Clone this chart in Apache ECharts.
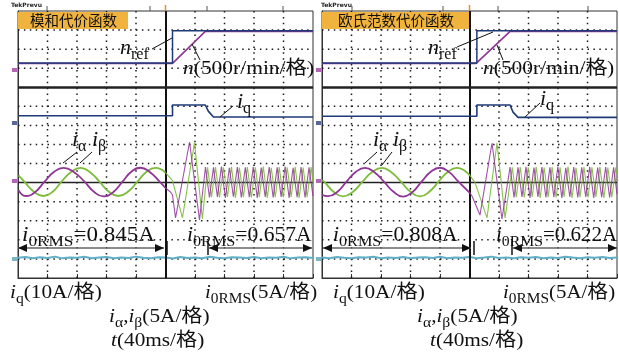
<!DOCTYPE html>
<html><head><meta charset="utf-8">
<script src="https://cdn.jsdelivr.net/npm/echarts@6/dist/echarts.min.js"></script>
<style>html,body{margin:0;padding:0;background:#fff}#c{width:619px;height:358px}</style>
</head><body><div id="c"></div>
<script>
// ---- data (x: time in ms, 40 ms / division; y: screen divisions from bottom) ----
const titles = ['模和代价函数', '欧氏范数代价函数'];
const rmsLabels = [['0.845A', '0.657A'], ['0.808A', '0.622A']];

const L_nref = [[0,11.27],[209.5,11.27],[209.5,12.97],[400,12.97]];
const L_n    = [[0,11.25],[209.5,11.25],[254,12.93],[400,12.93]];
const L_iq   = [[0,8.51],[209.5,8.51],[209.5,9.07],[254,9.07],[258,8.75],[265,8.44],[400,8.44]];
const L_ia_pre = [[0.7,4.61],[10.2,4.30],[23,4.5],[36,5.05],[49,5.57],[61.7,5.77],[76,5.55],[90.2,5.05],[103,4.52],[116,4.28],[129,4.5],[141.7,5.05],[154,5.58],[166,5.78],[179,5.55],[192,5.05],[200,4.72]];
const L_ib_pre = [[0.7,5.38],[8.6,5.05],[21.6,4.52],[34.6,4.30],[47,4.52],[59,5.05],[72,5.56],[84.8,5.77],[97.6,5.55],[110.5,5.05],[123.4,4.52],[136.3,4.30],[149,4.52],[162,5.05],[174,5.56],[186.5,5.77],[200,5.52]];
const L_ia_post = [[200,4.72],[206.8,4.51],[209.5,4.35],[213.6,3.15],[232.6,7.13],[246.1,3.04],[254.2,5.82],[259.6,4.22],[265,5.8],[270.4,4.25],[275.8,5.84],[281.2,4.2],[286.6,5.78],[292,4.26],[297.4,5.82],[302.8,4.22],[308.2,5.8],[313.6,4.24],[319,5.83],[324.4,4.2],[329.8,5.79],[335.2,4.25],[340.6,5.82],[346,4.22],[351.4,5.8],[356.8,4.25],[362.2,5.84],[367.6,4.2],[373,5.78],[378.4,4.24],[383.8,5.82],[389.2,4.22],[394.6,5.8],[400,4.3]];
const L_ib_post = [[200,5.52],[209.5,5.1],[223,3.15],[239.3,7.1],[250,3.1],[257,5.8],[262.4,4.24],[267.8,5.82],[273.2,4.22],[278.6,5.8],[284,4.25],[289.4,5.83],[294.8,4.2],[300.2,5.79],[305.6,4.24],[311,5.82],[316.4,4.22],[321.8,5.8],[327.2,4.25],[332.6,5.84],[338,4.2],[343.4,5.78],[348.8,4.24],[354.2,5.82],[359.6,4.22],[365,5.8],[370.4,4.25],[375.8,5.83],[381.2,4.2],[386.6,5.79],[392,4.24],[397.4,5.82],[400,5.0]];

const R_nref = [[0,11.27],[210,11.27],[210,12.97],[400,12.97]];
const R_n    = [[0,11.25],[209,11.25],[255,12.93],[400,12.93]];
const R_iq   = [[0,8.48],[210,8.48],[210,9.07],[255,9.07],[259,8.7],[265.8,8.42],[400,8.42]];
const R_ia_pre = [[0,4.36],[8.1,4.29],[20.6,4.51],[33.2,5.05],[45.7,5.56],[58.3,5.77],[71,5.55],[84,5.05],[97,4.52],[109.8,4.27],[122.4,4.5],[135,5.05],[147.5,5.57],[160,5.78],[172.5,5.55],[185,5.05],[200.7,4.45]];
const R_ib_pre = [[0,5.12],[3,5.05],[15.7,4.52],[28.5,4.28],[42,4.52],[55,5.05],[68,5.56],[81.4,5.77],[94,5.55],[107,5.05],[120,4.52],[132.9,4.28],[145.5,4.52],[158,5.05],[170.5,5.56],[183,5.77],[200.7,5.37]];
const R_ia_post = [[200.7,4.45],[203.4,4.3],[214.2,3.3],[230.5,7.08],[244,3.1],[255,5.82],[260.4,4.22],[265.8,5.8],[271.2,4.25],[276.6,5.83],[282,4.2],[287.4,5.79],[292.8,4.25],[298.2,5.82],[303.6,4.22],[309,5.8],[314.4,4.24],[319.8,5.84],[325.2,4.2],[330.6,5.78],[336,4.25],[341.4,5.82],[346.8,4.22],[352.2,5.8],[357.6,4.25],[363,5.83],[368.4,4.2],[373.8,5.79],[379.2,4.24],[384.6,5.82],[390,4.22],[395.4,5.8],[400,4.4]];
const R_ib_post = [[200.7,5.37],[207.5,5.0],[223.7,3.15],[237.3,7.08],[248.2,3.15],[258,5.8],[263.4,4.24],[268.8,5.82],[274.2,4.22],[279.6,5.8],[285,4.25],[290.4,5.83],[295.8,4.2],[301.2,5.79],[306.6,4.24],[312,5.82],[317.4,4.22],[322.8,5.8],[328.2,4.25],[333.6,5.84],[339,4.2],[344.4,5.78],[349.8,4.24],[355.2,5.82],[360.6,4.22],[366,5.8],[371.4,4.25],[376.8,5.83],[382.2,4.2],[387.6,5.79],[393,4.24],[398.4,5.8],[400,5.4]];

const i0Time = [0,10,20,30,40,50,60,70,80,90,100,110,120,130,140,150,160,170,180,190,200,210,220,230,240,250,260,270,280,290,300,310,320,330,340,350,360,370,380,390,400];
const L_i0 = [1.06,1.1,1.04,1.09,1.05,1.12,1.03,1.08,1.06,1.11,1.04,1.07,1.1,1.03,1.08,1.05,1.12,1.06,1.04,1.09,1.07,1.02,1.1,1.05,1.08,1.04,1.11,1.06,1.03,1.09,1.07,1.05,1.1,1.04,1.08,1.06,1.11,1.03,1.07,1.09,1.05];
const R_i0 = [1.08,1.04,1.1,1.06,1.03,1.09,1.07,1.11,1.04,1.08,1.05,1.1,1.03,1.07,1.09,1.05,1.11,1.04,1.08,1.06,1.1,1.03,1.07,1.12,1.05,1.08,1.04,1.09,1.06,1.1,1.03,1.08,1.05,1.11,1.07,1.04,1.09,1.06,1.1,1.05,1.07];

// ---- styling ----
const C = {purple:'#8f3596', green:'#7cbc3a', navy:'#1f3a78', cyan:'#5fb0c6', grid:'#1a1a1a'};
const SERIF = "'Liberation Serif','Noto Sans CJK SC',serif";
const GRIDS = [{left:18, top:11, width:295, height:267}, {left:322, top:11, width:295, height:267}];
const XDIV = 10, YDIV = 14;

const chart = echarts.init(document.getElementById('c'), null, {renderer:'canvas'});

function xAx(i){return {gridIndex:i,type:'value',min:0,max:400,interval:40,
  axisLabel:{show:false},axisLine:{show:true,onZero:false,lineStyle:{color:'#333',width:1}},
  axisTick:{show:true,inside:true,length:4,lineStyle:{color:'#333'}},
  splitLine:{show:false}};}
function yAx(i){return {gridIndex:i,type:'value',min:0,max:14,interval:1,
  axisLabel:{show:false},axisLine:{show:true,onZero:false,lineStyle:{color:'#333',width:1}},
  axisTick:{show:false},splitLine:{show:false}};}
function ln(i,data,color,width,smooth,z,op){return {type:'line',xAxisIndex:i,yAxisIndex:i,data,symbol:'none',
  smooth:smooth,lineStyle:{color,width,opacity:op||1},z:z,silent:true,animation:false};}

const series=[];
[[L_nref,L_n,L_iq,L_ia_pre,L_ib_pre,L_ia_post,L_ib_post,L_i0],[R_nref,R_n,R_iq,R_ia_pre,R_ib_pre,R_ia_post,R_ib_post,R_i0]].forEach((d,i)=>{
  const cy = ln(i, i0Time.map((t,k)=>[t,d[7][k]]), C.cyan, 2, false, 3);
  cy.markLine = {silent:true,symbol:'none',label:{show:false},animation:false,
    data:[{xAxis:200,lineStyle:{color:'#111',width:2,type:'solid'}},
          {yAxis:10,lineStyle:{color:'#222',width:2.5,type:'solid'}},
          {yAxis:5,lineStyle:{color:'#222',width:1.3,type:'solid'}}]};
  series.push(cy);
  series.push(ln(i,d[1],C.purple,1.6,false,4));
  series.push(ln(i,d[0],C.navy,1.5,false,5));
  series.push(ln(i,d[2],C.navy,1.6,false,5));
  series.push(ln(i,d[4],C.green,1.8,0.5,6));
  series.push(ln(i,d[3],C.purple,1.8,0.5,7));
  series.push(ln(i,d[6],C.green,1.1,false,6,0.9));
  series.push(ln(i,d[5],C.purple,1.1,false,7,0.85));
});

// ---- annotations ----
function rich(F,S){return {
  it:{fontFamily:SERIF,fontStyle:'italic',fontSize:F,verticalAlign:'bottom',padding:[0,0,4,0],fill:'#111'},
  m:{fontFamily:SERIF,fontSize:F,verticalAlign:'bottom',padding:[0,0,4,0],fill:'#111'},
  s:{fontFamily:SERIF,fontSize:S,verticalAlign:'bottom',fill:'#111'}};}
function lbl(x,y,text,F,S,sx){return {type:'text',x,y,scaleX:sx||1,z:100,silent:true,
  style:{text,rich:rich(F,S),fill:'#111',verticalAlign:'middle',align:'left'}};}
function seg(x1,y1,x2,y2,c,w,z){return {type:'line',z:z||100,silent:true,shape:{x1,y1,x2,y2},style:{stroke:c||'#111',lineWidth:w||1}};}
function dseg(x1,y1,x2,y2){return {type:'line',z:1,silent:true,shape:{x1,y1,x2,y2},style:{stroke:C.grid,lineWidth:1.5,lineDash:[1.5,4.4]}};}
function arrow(x1,x2,y){return [seg(x1,y,x2,y,'#666',1.5),
  {type:'polygon',z:101,silent:true,shape:{points:[[x1,y],[x1+9,y-4],[x1+9,y+4]]},style:{fill:'#111'}},
  {type:'polygon',z:101,silent:true,shape:{points:[[x2,y],[x2-9,y-4],[x2-9,y+4]]},style:{fill:'#111'}}];}
function bar(x,y){return seg(x,y-7,x,y+7,'#111',1.5);}

const G=[];
// dotted graticule
GRIDS.forEach(g=>{
  for(let k=1;k<XDIV;k++){ if(k===5) continue; const x=g.left+g.width*k/XDIV; G.push(dseg(x,g.top,x,g.top+g.height)); }
  for(let k=1;k<YDIV;k++){ if(k===5||k===10) continue; const y=g.top+g.height*(YDIV-k)/YDIV; G.push(dseg(g.left,y,g.left+g.width,y)); }
});
// title boxes
G.push({type:'rect',z:90,silent:true,shape:{x:18,y:12,width:110,height:17},style:{fill:'#f0b33e'}});
G.push({type:'text',z:91,silent:true,x:30,y:20.5,style:{text:titles[0],font:"14.5px 'Noto Sans CJK SC'",fill:'#111',verticalAlign:'middle'}});
G.push({type:'rect',z:90,silent:true,shape:{x:322,y:12,width:147,height:17},style:{fill:'#f0b33e'}});
G.push({type:'text',z:91,silent:true,x:338,y:20.5,style:{text:titles[1],font:"14.5px 'Noto Sans CJK SC'",fill:'#111',verticalAlign:'middle'}});
// Tek marks
G.push({type:'text',z:91,silent:true,x:11,y:2,style:{text:'TekPrevu',font:"bold 6px 'DejaVu Sans'",fill:'#222'}});
G.push({type:'text',z:91,silent:true,x:321,y:2,style:{text:'TekPrevu',font:"bold 6px 'DejaVu Sans'",fill:'#222'}});
// cursor ticks on top edge
[47,150,207,283,352,443,498,588].forEach(x=>G.push(seg(x,6,x,11,'#555',1)));
G.push(seg(165.5,5,165.5,11,'#e0902f',1.5));
G.push(seg(469.5,5,469.5,11,'#e0902f',1.5));
// channel markers
[12,316].forEach(x=>{
  G.push({type:'rect',z:90,silent:true,shape:{x:x,y:68,width:5,height:4},style:{fill:'#b463b6'}});
  G.push({type:'rect',z:90,silent:true,shape:{x:x,y:121,width:5,height:4},style:{fill:'#56699e'}});
  G.push({type:'rect',z:90,silent:true,shape:{x:x,y:179,width:5,height:4},style:{fill:'#b463b6'}});
  G.push({type:'rect',z:90,silent:true,shape:{x:x,y:257,width:5,height:4},style:{fill:'#79b7c7'}});
});
// left panel labels
G.push(lbl(120,50,'{it|n}{s|ref}',22,16));
G.push(seg(152,49,172,38));
G.push(lbl(183,71,'{it|n}{m|(500r/min/格)}',19,14,1.13));
G.push(seg(200,60,192,44));
G.push(lbl(237,104,'{it|i}{s|q}',22,16));
G.push(seg(233,106,220,117));
G.push(lbl(72,142,'{it|i}{s|α}{m| }{it|i}{s|β}',22,16));
G.push(seg(77,152,63,163)); G.push(seg(92,152,80,163));
G.push(lbl(22,238,'{it|i}{s|0RMS}{m|='+rmsLabels[0][0]+'}',20,15,1.15));
G.push(lbl(187,238,'{it|i}{s|0RMS}{m|='+rmsLabels[0][1]+'}',20,15,1.08));
arrow(18,164,248).forEach(e=>G.push(e)); G.push(bar(167,248));
arrow(209,312,248).forEach(e=>G.push(e)); G.push(bar(208,248));
// right panel labels
G.push(lbl(428,50,'{it|n}{s|ref}',22,16));
G.push(seg(457,47,493,32));
G.push(lbl(483,71,'{it|n}{m|(500r/min/格)}',19,14,1.13));
G.push(seg(503,60,497,45));
G.push(lbl(540,101,'{it|i}{s|q}',22,16));
G.push(seg(540,103,525,117));
G.push(lbl(373,142,'{it|i}{s|α}{m| }{it|i}{s|β}',22,16));
G.push(seg(377,152,365,163)); G.push(seg(392,152,382,165));
G.push(lbl(333,238,'{it|i}{s|0RMS}{m|='+rmsLabels[1][0]+'}',20,15,1.08));
G.push(lbl(496,238,'{it|i}{s|0RMS}{m|='+rmsLabels[1][1]+'}',20,15,1.05));
arrow(323,471,248).forEach(e=>G.push(e)); G.push(bar(474,248));
arrow(513,617,248).forEach(e=>G.push(e)); G.push(bar(512,248));
// bottom scale labels
[[0,10,205,109,111],[1,333,503,417,430]].forEach(r=>{
  G.push(lbl(r[1],295,'{it|i}{s|q}{m|(10A/格)}',19,14,1.12));
  G.push(lbl(r[2],295,'{it|i}{s|0RMS}{m|(5A/格)}',19,14,1.1));
  G.push(lbl(r[3],319,'{it|i}{s|α}{m|,}{it|i}{s|β}{m|(5A/格)}',19,14,1.12));
  G.push(lbl(r[4],343,'{it|t}{m|(40ms/格)}',19,14,1.12));
});

chart.setOption({
  animation:false,
  backgroundColor:'#fff',
  grid:GRIDS.map(g=>Object.assign({show:true,borderColor:'#333',borderWidth:1,backgroundColor:'transparent'},g)),
  xAxis:[xAx(0),xAx(1)],
  yAxis:[yAx(0),yAx(1)],
  series:series,
  graphic:{elements:G}
});
</script></body></html>
